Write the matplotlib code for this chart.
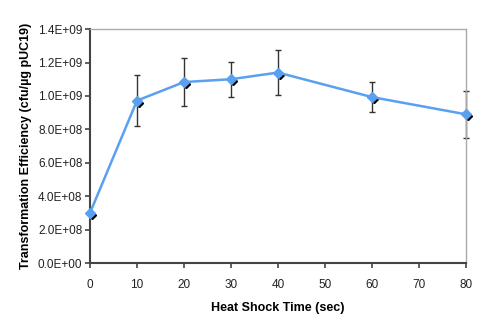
import matplotlib
matplotlib.use("Agg")
import matplotlib.pyplot as plt
import matplotlib.transforms as mtransforms
from matplotlib.ticker import FuncFormatter

times = [0, 10, 20, 30, 40, 60, 80]
efficiency = [3.0e8, 9.72e8, 1.083e9, 1.10e9, 1.14e9, 0.993e9, 0.89e9]
errors = [0.0, 1.52e8, 1.45e8, 1.05e8, 1.32e8, 0.90e8, 1.42e8]
xticks = [0, 10, 20, 30, 40, 50, 60, 70, 80]
yticks = [0, 2e8, 4e8, 6e8, 8e8, 1.0e9, 1.2e9, 1.4e9]

plt.rcParams['font.family'] = ['Liberation Sans', 'DejaVu Sans']

fig = plt.figure(figsize=(5, 3.27), dpi=100)
ax = fig.add_axes([0.18, 0.1957, 0.752, 0.7153])

eb = ax.errorbar(times, efficiency, yerr=errors, fmt='none', ecolor='#333333',
                 elinewidth=1.0, capsize=2, capthick=1.0, zorder=2)
for art in eb.lines[1] + eb.lines[2]:
    art.set_clip_on(False)
shadow = ax.transData + mtransforms.ScaledTranslation(1.5/72, -1.5/72, fig.dpi_scale_trans)
ax.plot(times, efficiency, linestyle='none', marker='D', markersize=4.5,
        color='black', transform=shadow, zorder=3, clip_on=False)
ax.plot(times, efficiency, color='#5aa0f0', linewidth=1.8, marker='D',
        markersize=5.5, markerfacecolor='#5aa0f0', markeredgecolor='#5aa0f0',
        zorder=4, clip_on=False)

ax.set_xlim(0, 80)
ax.set_ylim(0, 1.4e9)
ax.set_xticks(xticks)
ax.set_yticks(yticks)

def sci(v, pos):
    if v == 0:
        return '0.0E+00'
    return '%.1E' % v
ax.yaxis.set_major_formatter(FuncFormatter(sci))

for side in ['left', 'bottom']:
    ax.spines[side].set_color('#444444')
    ax.spines[side].set_linewidth(1.5)
for side in ['top', 'right']:
    ax.spines[side].set_color('#aaaaaa')
    ax.spines[side].set_linewidth(1.0)

ax.tick_params(axis='both', direction='out', length=3.5, width=1.2, color='#444444',
               labelsize=8.5, labelcolor='#222222')
ax.tick_params(axis='x', pad=8)
ax.tick_params(axis='y', pad=2)

ax.set_xlabel('Heat Shock Time (sec)', fontsize=9, fontweight='bold', labelpad=8)
ax.set_ylabel('Transformation Efficiency (cfu/µg pUC19)', fontsize=9,
              fontweight='bold', labelpad=4)

fig.savefig('out.png', dpi=100)
